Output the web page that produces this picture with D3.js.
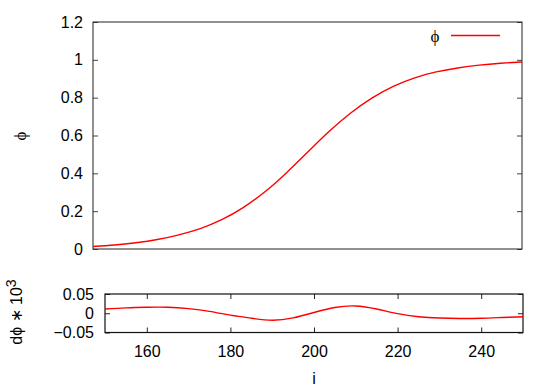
<!DOCTYPE html>
<html>
<head>
<meta charset="utf-8">
<script src="https://cdn.jsdelivr.net/npm/d3@7"></script>
<style>
  body { margin: 0; background: #fff; }
  text { font-family: "Liberation Sans", Arial, sans-serif; }
</style>
</head>
<body>
<script>
// x positions (i) shared by both panels
const iValues = [150, 155, 160, 165, 170, 175, 180, 185, 190, 195, 200,
                 205, 210, 215, 220, 225, 230, 235, 240, 245, 250]
// phi (top panel)
const phiValues = [0.013, 0.021, 0.033, 0.050, 0.075, 0.108, 0.155, 0.219, 0.301, 0.401, 0.511,
                   0.621, 0.718, 0.798, 0.860, 0.905, 0.936, 0.957, 0.972, 0.982, 0.989]
// d phi * 10^3 (bottom panel)
const dphiValues = [0.011, 0.014, 0.0155, 0.0155, 0.012, 0.005, -0.005, -0.013, -0.018, -0.012, 0.002,
                    0.015, 0.019, 0.011, -0.001, -0.009, -0.0125, -0.0135, -0.013, -0.011, -0.009]

const topYTicks = [0, 0.2, 0.4, 0.6, 0.8, 1, 1.2]
const botYTicks = [-0.05, 0, 0.05]
const xTicks = [160, 180, 200, 220, 240]

const width = 554, height = 388

const svg = d3.select("body").append("svg")
  .attr("width", width)
  .attr("height", height)

// ---- top panel ----
const topBox = { left: 93, right: 522, top: 22, bottom: 249 }
const xTop = d3.scaleLinear().domain([150, 250]).range([topBox.left, topBox.right])
const yTop = d3.scaleLinear().domain([0, 1.2]).range([topBox.bottom, topBox.top])

const gTop = svg.append("g")

gTop.append("g")
  .attr("transform", `translate(${topBox.left},0)`)
  .call(d3.axisLeft(yTop).tickValues(topYTicks).tickSize(-5).tickPadding(10)
    .tickFormat(d3.format("~g")))
  .call(g => g.select(".domain").remove())

gTop.append("g")
  .attr("transform", `translate(${topBox.right},0)`)
  .call(d3.axisRight(yTop).tickValues(topYTicks).tickSize(-5).tickFormat(""))
  .call(g => g.select(".domain").remove())

gTop.selectAll(".tick line").attr("stroke", "#444")
gTop.selectAll(".tick text").attr("font-size", 16).attr("fill", "#000")
  .attr("font-family", "Liberation Sans, Arial, sans-serif")

gTop.append("rect")
  .attr("x", topBox.left).attr("y", topBox.top)
  .attr("width", topBox.right - topBox.left).attr("height", topBox.bottom - topBox.top)
  .attr("fill", "none").attr("stroke", "#222").attr("stroke-width", 1)

const lineTop = d3.line()
  .x((d, k) => xTop(iValues[k]))
  .y(d => yTop(d))
  .curve(d3.curveNatural)

gTop.append("path")
  .datum(phiValues)
  .attr("d", lineTop)
  .attr("fill", "none")
  .attr("stroke", "#ff0000")
  .attr("stroke-width", 1.4)

// y label
svg.append("text")
  .attr("transform", `translate(20,136) rotate(-90)`)
  .attr("text-anchor", "middle")
  .attr("dy", "0.35em")
  .attr("font-size", 17)
  .style("font-family", "Liberation Serif, DejaVu Serif, serif")
  .text("ϕ")

// legend
svg.append("text")
  .attr("x", 435).attr("y", 36)
  .attr("text-anchor", "middle")
  .attr("dy", "0.35em")
  .attr("font-size", 17)
  .style("font-family", "Liberation Serif, DejaVu Serif, serif")
  .text("ϕ")

svg.append("line")
  .attr("x1", 451).attr("x2", 500)
  .attr("y1", 35.5).attr("y2", 35.5)
  .attr("stroke", "#ff0000").attr("stroke-width", 1.4)

// ---- bottom panel ----
const botBox = { left: 105, right: 523, top: 294, bottom: 332.5 }
const xBot = d3.scaleLinear().domain([150, 250]).range([botBox.left, botBox.right])
const yBot = d3.scaleLinear().domain([-0.05, 0.05]).range([botBox.bottom, botBox.top])

const gBot = svg.append("g")

gBot.append("g")
  .attr("transform", `translate(0,${botBox.bottom})`)
  .call(d3.axisBottom(xBot).tickValues(xTicks).tickSize(-5).tickPadding(13))
  .call(g => g.select(".domain").remove())

gBot.append("g")
  .attr("transform", `translate(0,${botBox.top})`)
  .call(d3.axisTop(xBot).tickValues(xTicks).tickSize(-5).tickFormat(""))
  .call(g => g.select(".domain").remove())

gBot.append("g")
  .attr("transform", `translate(${botBox.left},0)`)
  .call(d3.axisLeft(yBot).tickValues(botYTicks).tickSize(-5).tickPadding(11)
    .tickFormat(d3.format("~g")))
  .call(g => g.select(".domain").remove())

gBot.append("g")
  .attr("transform", `translate(${botBox.right},0)`)
  .call(d3.axisRight(yBot).tickValues(botYTicks).tickSize(-5).tickFormat(""))
  .call(g => g.select(".domain").remove())

gBot.selectAll(".tick line").attr("stroke", "#222")
gBot.selectAll(".tick text").attr("font-size", 16).attr("fill", "#000")
  .attr("font-family", "Liberation Sans, Arial, sans-serif")

gBot.append("rect")
  .attr("x", botBox.left).attr("y", botBox.top)
  .attr("width", botBox.right - botBox.left).attr("height", botBox.bottom - botBox.top)
  .attr("fill", "none").attr("stroke", "#111").attr("stroke-width", 1.2)

const lineBot = d3.line()
  .x((d, k) => xBot(iValues[k]))
  .y(d => yBot(d))
  .curve(d3.curveNatural)

gBot.append("path")
  .datum(dphiValues)
  .attr("d", lineBot)
  .attr("fill", "none")
  .attr("stroke", "#ff0000")
  .attr("stroke-width", 1.4)

// bottom y label
const dLabel = svg.append("text")
  .attr("transform", `translate(22,312) rotate(-90)`)
  .attr("text-anchor", "middle")
  .attr("font-size", 16)
dLabel.append("tspan").text("dϕ ∗ 10")
dLabel.append("tspan").attr("dy", "-0.45em").attr("font-size", 14).text("3")

// x label
svg.append("text")
  .attr("x", 314).attr("y", 378)
  .attr("text-anchor", "middle")
  .attr("dy", "0.35em")
  .attr("font-size", 16)
  .text("i")
</script>
</body>
</html>
